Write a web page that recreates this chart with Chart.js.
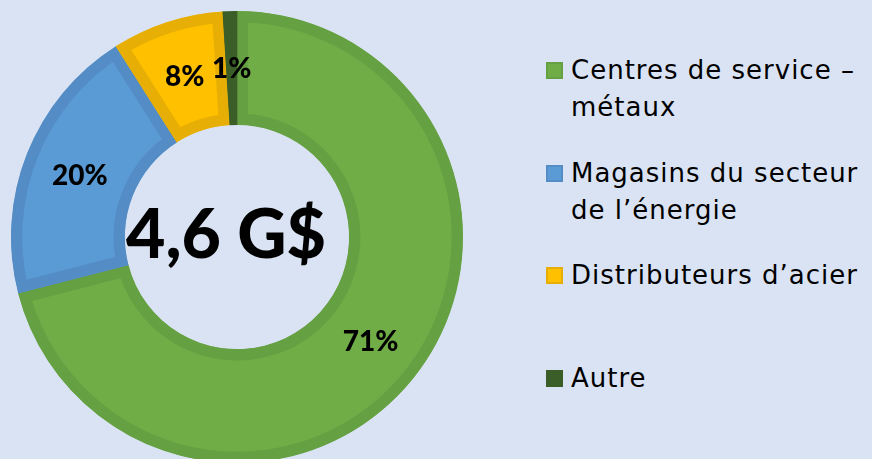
<!DOCTYPE html>
<html><head><meta charset="utf-8">
<script src="https://cdn.jsdelivr.net/npm/chart.js@4.4.0/dist/chart.umd.min.js"></script>
<style>
html,body{margin:0;padding:0;width:872px;height:459px;overflow:hidden;background:#DAE3F3;}
#wrap{position:absolute;left:0;top:0;width:474px;height:474px;}
#legend{position:absolute;left:546px;top:0;width:326px;font-family:"DejaVu Sans";font-size:26px;line-height:37px;color:#000;letter-spacing:1px}
.item{position:absolute;left:0;display:flex;align-items:flex-start}
.sw{width:17px;height:17px;margin-top:10px;box-sizing:border-box;border:2px solid;flex:none}
.txt{margin-left:8px;width:315px}
</style></head><body>
<div id="wrap"><canvas id="c"></canvas></div>
<div id="legend"></div>
<script>
const categories = ['Centres de service\u00a0– métaux', 'Magasins du secteur de l’énergie', 'Distributeurs d’acier', 'Autre'];
const shares = [71, 20, 8, 1];
const valueLabels = ['71%', '20%', '8%', '1%'];
const centerLabel = '4,6 G$';
const fillColors = ['#70AD47', '#5B9BD5', '#FFC000', '#3B5E28'];
const borderColors = ['#65A042', '#548CC6', '#E7AE05', '#3B5E28'];

// HTML legend
const legend = document.getElementById('legend');
categories.forEach((c, i) => {
  const it = document.createElement('div');
  it.className = 'item';
  it.style.top = (52 + i * 102.5) + 'px';
  const sw = document.createElement('div');
  sw.className = 'sw';
  sw.style.background = fillColors[i];
  sw.style.borderColor = borderColors[i];
  const tx = document.createElement('div');
  tx.className = 'txt';
  tx.textContent = c;
  it.appendChild(sw); it.appendChild(tx);
  legend.appendChild(it);
});

const labelPlugin = {
  id: 'sliceLabels',
  afterDatasetsDraw(chart) {
    const ctx = chart.ctx;
    const meta = chart.getDatasetMeta(0);
    ctx.save();
    ctx.fillStyle = '#000';
    ctx.textAlign = 'center';
    ctx.textBaseline = 'alphabetic';
    ctx.font = '900 28px Lato';
    meta.data.forEach((arc, i) => {
      const p = arc.tooltipPosition();
      ctx.fillText(valueLabels[i], p.x, p.y + 10);
    });
    const a = meta.data[0];
    ctx.font = '900 68px Lato';
    ctx.fillText(centerLabel, a.x - 11, a.y + 21);
    ctx.restore();
  }
};

new Chart(document.getElementById('c'), {
  type: 'doughnut',
  data: {
    labels: categories,
    datasets: [{
      data: shares,
      backgroundColor: fillColors,
      borderColor: borderColors,
      borderWidth: 11,
      borderAlign: 'inner',
      borderJoinStyle: 'miter'
    }]
  },
  options: {
    responsive: true,
    maintainAspectRatio: false,
    animation: false,
    events: [],
    radius: 226,
    cutout: '49.6%',
    layout: { padding: 0 },
    plugins: { legend: { display: false }, tooltip: { enabled: false } }
  },
  plugins: [labelPlugin]
});
</script>
</body></html>
